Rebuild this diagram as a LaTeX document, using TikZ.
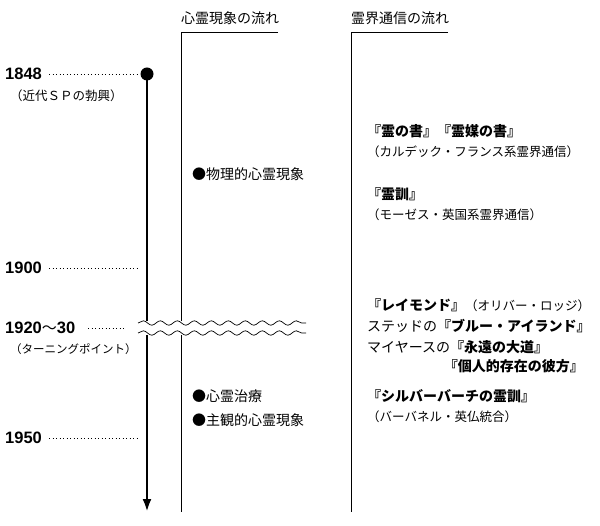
\documentclass[tikz,border=0pt]{standalone}
\usepackage{fontspec}
\setmainfont{Noto Sans CJK JP}
\newfontfamily\yearfont{Liberation Sans}
\usetikzlibrary{decorations.pathmorphing}
\usetikzlibrary{arrows.meta}
\tikzset{
    year/.style={anchor=west, font=\yearfont\bfseries\fontsize{16.5}{18}\selectfont, inner sep=0pt},
    note/.style={anchor=west, font=\fontsize{12.5}{14}\selectfont, inner sep=0pt},
    head/.style={anchor=west, font=\fontsize{14}{16}\selectfont, inner sep=0pt},
    dots/.style={line width=1pt, dash pattern=on 1pt off 2.5pt},
    wave/.style={decorate, decoration={snake, amplitude=2.2pt, segment length=17pt}, line width=0.7pt}
  }
\begin{document}
\begin{tikzpicture}[x=1pt, y=-1pt]
 \useasboundingbox (0,0) rectangle (600,526);
 %column heads
     \node[head] (h1) at (181,18) {心霊現象の流れ};
     \node[head] (h2) at (351,18) {霊界通信の流れ};
     \draw[line width=0.8pt] (278,32) -- (181,32) -- (181,512);
     \draw[line width=0.8pt] (448,32) -- (351,32) -- (351,512);
 %time axis
     \fill (147,74) circle (6.5);
     \draw[line width=2.6pt, -{Latex[length=13pt,width=9pt]}] (147,74) -- (147,512);
 %years
     \node[year] (y1) at (5,74) {1848};
     \draw[dots] (49,75) -- (139,75);
     \node[note] (n1) at (10,96) {（近代ＳＰの勃興）};
     \node[year] (y2) at (5,268) {1900};
     \draw[dots] (49,269) -- (139,269);
     \node[year] (y3) at (5,328) {1920{\normalfont\fontsize{15}{17}\selectfont 〜}30};
     \draw[dots] (88,329) -- (126,329);
     \node[note, font=\fontsize{11.5}{13}\selectfont] (n3) at (10,349) {（ターニングポイント）};
     \node[year] (y4) at (5,438) {1950};
     \draw[dots] (49,439) -- (139,439);
 %break
     \fill[white] (138,321) rectangle (306,335);
     \draw[wave] (138,323) -- (306,323);
     \draw[wave] (138,333) -- (306,333);
 %phenomena
     \node[head] (p1) at (192,174) {●物理的心霊現象};
     \node[head] (p2) at (192,396) {●心霊治療};
     \node[head] (p3) at (192,420) {●主観的心霊現象};
 %communications
     \node[head] (c1) at (367,131) {\bfseries 『霊の書』『霊媒の書』};
     \node[note] (c2) at (367,152) {（カルデック・フランス系霊界通信）};
     \node[head] (c3) at (367,194) {\bfseries 『霊訓』};
     \node[note] (c4) at (367,215) {（モーゼス・英国系霊界通信）};
     \node[head] (c5) at (367,305) {\bfseries 『レイモンド』\mdseries\fontsize{12.5}{14}\selectfont（オリバー・ロッジ）};
     \node[head] (c6) at (367,326) {ステッドの\bfseries『ブルー・アイランド』};
     \node[head] (c7) at (367,347) {マイヤースの\bfseries『永遠の大道』};
     \node[head, anchor=east] (c8) at (584,366) {\bfseries『個人的存在の彼方』};
     \node[head] (c9) at (367,396) {\bfseries『シルバーバーチの霊訓』};
     \node[note] (c10) at (367,417) {（バーバネル・英仏統合）};
\end{tikzpicture}
\end{document}
